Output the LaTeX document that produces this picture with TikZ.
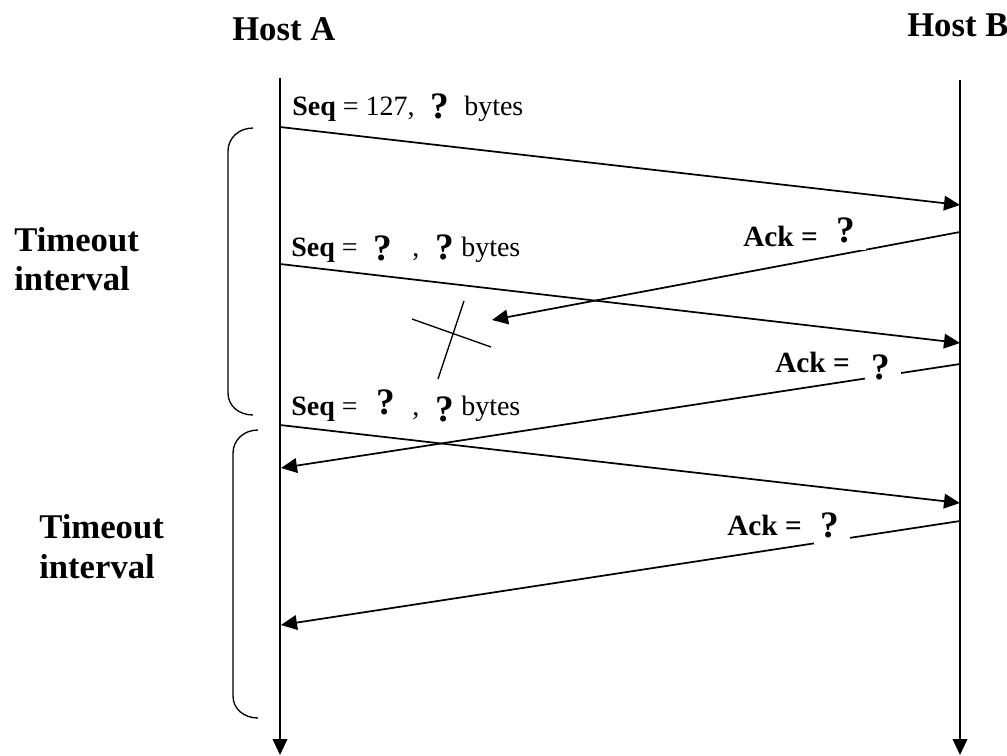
\documentclass[tikz,border=0pt]{standalone}
\usepackage{fontspec}
\setmainfont{Liberation Serif}
\usetikzlibrary{arrows.meta}
\begin{document}
\begin{tikzpicture}[x=0.75pt,y=-0.75pt,
  lbl/.style={inner sep=0pt, anchor=base west},
  host/.style={lbl, font=\fontsize{26}{30}\selectfont\bfseries},
  side/.style={lbl, font=\fontsize{26}{30}\selectfont\bfseries},
  msgtxt/.style={lbl, font=\fontsize{21}{25}\selectfont},
  acktxt/.style={lbl, font=\fontsize{22}{26}\selectfont\bfseries},
  qm/.style={lbl, font=\fontsize{28}{32}\selectfont\bfseries},
  qbox/.style={qm, fill=white},
  tl/.style={line width=1.4pt, -{Triangle[length=12pt,width=11pt]}},
  msg/.style={line width=1.3pt, -{Triangle[length=12pt,width=11pt]}},
  plainmsg/.style={line width=1.3pt},
  brk/.style={line width=1pt},
  cross/.style={line width=1pt}]
\useasboundingbox (0,0) rectangle (1007,756);

% timelines
\coordinate (A0) at (280,78);  \coordinate (A1) at (280,755);
\coordinate (B0) at (960,80);  \coordinate (B1) at (960,755);
\draw[tl] (A0) -- (A1);
\draw[tl] (B0) -- (B1);

% message end points
\coordinate (s1a) at (280,127); \coordinate (s1b) at (960,205);
\coordinate (k1b) at (960,232); \coordinate (k1a) at (492,320);
\coordinate (s2a) at (280,264); \coordinate (s2b) at (960,343);
\coordinate (k2b) at (960,364); \coordinate (k2a) at (281,468);
\coordinate (s3a) at (280,425); \coordinate (s3b) at (960,503);
\coordinate (k3b) at (960,521); \coordinate (k3a) at (281,625);

\draw[msg] (s1a) -- (s1b);
\draw[msg] (k1b) -- (k1a);
\draw[msg] (s2a) -- (s2b);
\draw[msg] (k2b) -- (k2a);
\draw[msg] (s3a) -- (s3b);
\draw[msg] (k3b) -- (k3a);

% loss cross
\coordinate (x1a) at (412,319); \coordinate (x1b) at (491,347);
\coordinate (x2a) at (464,301); \coordinate (x2b) at (438,379);
\draw[cross] (x1a) -- (x1b);
\draw[cross] (x2a) -- (x2b);

% brackets
\coordinate (b1t) at (253,128); \coordinate (b1b) at (253,415);
\coordinate (b2t) at (258,430); \coordinate (b2b) at (258,718);
\draw[brk] (b1t) .. controls (239,128) and (228,138) .. (228,151) -- (228,393) .. controls (228,406) and (239,415) .. (b1b);
\draw[brk] (b2t) .. controls (244,430) and (233,440) .. (233,453) -- (233,696) .. controls (233,709) and (244,718) .. (b2b);

% hosts
\node[host] (hA) at (232,41) {Host A};
\node[host] (hB) at (907,37) {Host B};

% timeout labels
\node[side] (t1) at (14,252) {Timeout};
\node[side] (i1) at (14,291) {interval};
\node[side] (t2) at (39,538) {Timeout};
\node[side] (i2) at (39,578) {interval};

% seq labels
\node[msgtxt] (q1) at (292,116) {\textbf{Seq} = 127,};
\node[qm] (q1m) at (430,119) {?};
\node[msgtxt] (q1b) at (464,116) {bytes};

\node[msgtxt] (q2) at (291,257) {\textbf{Seq} =};
\node[qm] (q2m) at (373,261) {?};
\node[msgtxt] (q2c) at (412,257) {,};
\node[qm] (q2n) at (435,259) {?};
\node[msgtxt] (q2b) at (461,257) {bytes};

\node[msgtxt] (q3) at (291,415) {\textbf{Seq} =};
\node[qm] (q3m) at (376,414) {?};
\node[msgtxt] (q3c) at (412,415) {,};
\node[qm] (q3n) at (435,421) {?};
\node[msgtxt] (q3b) at (461,415) {bytes};

% ack labels
\node[acktxt] (a1) at (743,247) {Ack =};
\node[qbox] (a1m) at (829.5,243) {\rule[-5.25pt]{0pt}{24pt}\hspace*{4.9pt}?\hspace*{8.25pt}};
\node[acktxt] (a2) at (775,372) {Ack =};
\node[qbox] (a2m) at (864.5,379) {\rule[-5.25pt]{0pt}{24pt}\hspace*{4.9pt}?\hspace*{8.25pt}};
\node[acktxt] (a3) at (727,535) {Ack =};
\node[qbox] (a3m) at (813.5,537) {\rule[-5.25pt]{0pt}{24pt}\hspace*{4.9pt}?\hspace*{8.25pt}};
\end{tikzpicture}
\end{document}
